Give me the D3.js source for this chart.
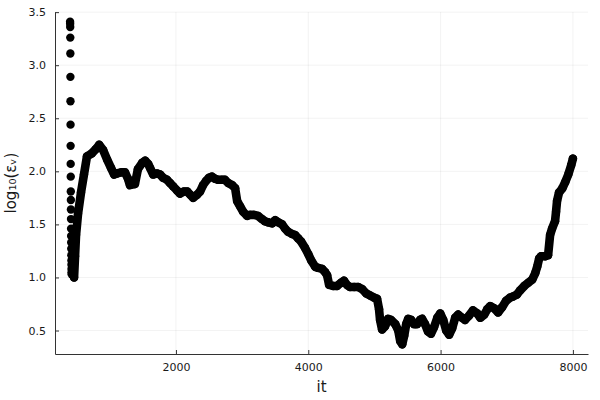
<!doctype html>
<html>
<head>
<meta charset="utf-8"/>
<script src="https://cdnjs.cloudflare.com/ajax/libs/d3/7.8.5/d3.min.js"></script>
<style>
  body { margin: 0; background: #fff; }
  text { font-family: "DejaVu Sans", sans-serif; fill: #1a1a1a; }
</style>
</head>
<body>
<script>
// first iterations: sparse dots dropping straight down at it ~ 400
const headIt = [400,401,402,403,404,405,406,407,408,409,410,411,412,413,414,415,416,417,418,419,420,421,422,423,424];
const headVal = [3.41,3.39,3.36,3.26,3.11,2.89,2.66,2.44,2.24,2.07,1.95,1.81,1.73,1.64,1.55,1.46,1.39,1.33,1.27,1.21,1.16,1.12,1.08,1.05,1.03];

// the rest of the run
const runIt = [460,475,490,520,565,610,655,730,790,840,900,960,1020,1065,1110,1170,1230,1275,1305,1380,1425,1490,1535,1580,1610,1655,1715,1760,1805,1865,1910,1955,2015,2060,2120,2170,2215,2260,2320,2365,2410,2455,2500,2545,2590,2635,2695,2740,2790,2850,2895,2925,2970,3015,3075,3120,3180,3240,3300,3345,3390,3455,3500,3545,3605,3650,3695,3755,3800,3845,3890,3950,4000,4045,4105,4150,4210,4255,4285,4315,4375,4435,4495,4540,4585,4630,4695,4755,4815,4875,4935,4995,5040,5070,5085,5115,5160,5205,5250,5315,5360,5390,5420,5450,5480,5510,5555,5600,5645,5690,5720,5765,5810,5855,5900,5950,5995,6040,6085,6130,6175,6220,6265,6325,6370,6430,6490,6555,6600,6660,6705,6750,6810,6870,6930,6990,7050,7095,7155,7205,7265,7325,7385,7430,7460,7490,7520,7580,7625,7655,7685,7730,7745,7760,7790,7840,7885,7930,7975,8000];
const runVal = [1.00,1.20,1.40,1.60,1.80,1.97,2.14,2.17,2.21,2.25,2.20,2.11,2.03,1.97,1.98,1.99,1.99,1.93,1.87,1.88,2.02,2.08,2.10,2.07,2.03,1.97,1.98,1.97,1.94,1.92,1.89,1.86,1.82,1.79,1.81,1.81,1.78,1.75,1.78,1.81,1.87,1.91,1.94,1.95,1.93,1.92,1.92,1.92,1.89,1.87,1.84,1.72,1.67,1.62,1.58,1.59,1.59,1.58,1.55,1.53,1.52,1.51,1.54,1.52,1.50,1.46,1.43,1.41,1.40,1.37,1.34,1.28,1.22,1.16,1.10,1.09,1.08,1.05,1.02,0.93,0.92,0.92,0.95,0.97,0.93,0.91,0.91,0.91,0.89,0.85,0.83,0.81,0.80,0.70,0.60,0.51,0.54,0.61,0.60,0.56,0.50,0.40,0.37,0.45,0.56,0.61,0.60,0.56,0.56,0.60,0.61,0.56,0.49,0.47,0.53,0.62,0.66,0.60,0.50,0.46,0.52,0.62,0.65,0.62,0.60,0.64,0.69,0.66,0.62,0.65,0.70,0.73,0.71,0.67,0.72,0.78,0.81,0.82,0.84,0.88,0.92,0.95,0.98,1.04,1.10,1.18,1.20,1.20,1.21,1.40,1.46,1.53,1.62,1.72,1.80,1.84,1.90,1.97,2.06,2.12];

const xTicks = [2000, 4000, 6000, 8000];
const yTicks = [0.5, 1.0, 1.5, 2.0, 2.5, 3.0, 3.5];

const W = 600, H = 400;
const m = { left: 55, right: 12, top: 12, bottom: 46 };

const head = headIt.map((d, i) => [d, headVal[i]]);
const run = runIt.map((d, i) => [d, runVal[i]]);
const all = head.concat(run);

// Plots-style 3% widening of the data extent
function widen(ext) {
  const p = (ext[1] - ext[0]) * 0.03;
  return [ext[0] - p, ext[1] + p];
}

const x = d3.scaleLinear()
  .domain(widen(d3.extent(all, d => d[0])))
  .range([m.left, W - m.right]);
const y = d3.scaleLinear()
  .domain(widen(d3.extent(all, d => d[1])))
  .range([H - m.bottom, m.top]);

const svg = d3.select('body').append('svg').attr('width', W).attr('height', H);

// grid
svg.append('g').selectAll('line').data(xTicks).enter().append('line')
  .attr('x1', d => x(d)).attr('x2', d => x(d))
  .attr('y1', m.top).attr('y2', H - m.bottom)
  .attr('stroke', '#000').attr('stroke-opacity', 0.1).attr('stroke-width', 0.5);
svg.append('g').selectAll('line').data(yTicks).enter().append('line')
  .attr('x1', m.left).attr('x2', W - m.right)
  .attr('y1', d => y(d)).attr('y2', d => y(d))
  .attr('stroke', '#000').attr('stroke-opacity', 0.1).attr('stroke-width', 0.5);

// axes, ticks pointing inward
const xAxis = svg.append('g').attr('transform', `translate(0,${H - m.bottom})`)
  .call(d3.axisBottom(x).tickValues(xTicks).tickSizeInner(-4).tickSizeOuter(0).tickPadding(9).tickFormat(d3.format('d')));
const yAxis = svg.append('g').attr('transform', `translate(${m.left},0)`)
  .call(d3.axisLeft(y).tickValues(yTicks).tickSizeInner(-4).tickSizeOuter(0).tickPadding(9).tickFormat(d3.format('.1f')));
[xAxis, yAxis].forEach(a => {
  a.select('.domain').attr('stroke', '#333').attr('stroke-width', 1);
  a.selectAll('.tick line').attr('stroke', '#333').attr('stroke-width', 1);
  a.selectAll('.tick text').style('font-size', '11px').style('font-family', '"DejaVu Sans", sans-serif').attr('fill', '#1a1a1a');
});

// series: thick trace through the dense points, plus the dots themselves
svg.append('path')
  .datum(run)
  .attr('fill', 'none')
  .attr('stroke', '#000')
  .attr('stroke-width', 8.6)
  .attr('stroke-linejoin', 'round')
  .attr('stroke-linecap', 'round')
  .attr('d', d3.line().x(d => x(d[0])).y(d => y(d[1])));

svg.append('g').selectAll('circle').data(all).enter().append('circle')
  .attr('cx', d => x(d[0]))
  .attr('cy', d => y(d[1]))
  .attr('r', 4.2)
  .attr('fill', '#000');

// labels
svg.append('text')
  .attr('x', (m.left + W - m.right) / 2).attr('y', 392)
  .attr('text-anchor', 'middle')
  .style('font-size', '15px')
  .text('it');
svg.append('text')
  .attr('transform', `translate(16,${(m.top + H - m.bottom) / 2}) rotate(-90)`)
  .attr('text-anchor', 'middle')
  .style('font-size', '15px')
  .text('log₁₀(εᵥ)');
</script>
</body>
</html>
